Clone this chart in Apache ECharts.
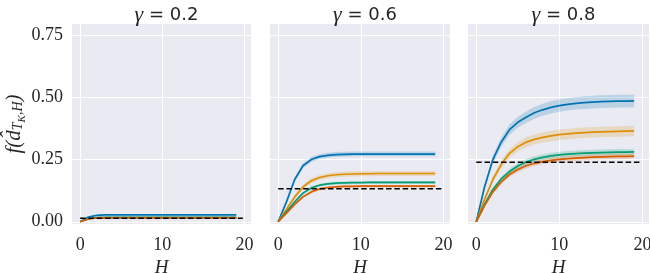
<!DOCTYPE html>
<html><head><meta charset="utf-8">
<script src="https://cdn.jsdelivr.net/npm/echarts@6/dist/echarts.min.js"></script>
<style>html,body{margin:0;padding:0;background:#fff}#c{width:650px;height:273px}</style>
</head><body><div id="c"></div>
<script>
const H = [0,1,2,3,4,5,6,7,8,9,10,11,12,13,14,15,16,17,18,19];
const gammas = ['0.2','0.6','0.8'];
const xTicks = [0,10,20];
const yTicks = [0,0.25,0.5,0.75];
const colors = ['#0173B2','#DE8F05','#029E73','#D55E00'];
const baseline = [0.014, 0.133, 0.239];
const baselineX = [0, 19.8];

// gamma = 0.2
const g02_blue   = [0,0.019,0.026,0.028,0.028,0.028,0.028,0.028,0.028,0.028,0.028,0.028,0.028,0.028,0.028,0.028,0.028,0.028,0.028,0.028];
const g02_orange = [0,0.012,0.016,0.017,0.017,0.017,0.017,0.017,0.017,0.017,0.017,0.017,0.017,0.017,0.017,0.017,0.017,0.017,0.017,0.017];
const g02_green  = [0,0.012,0.017,0.018,0.018,0.018,0.018,0.018,0.018,0.018,0.018,0.018,0.018,0.018,0.018,0.018,0.018,0.018,0.018,0.018];
const g02_red    = [0,0.011,0.015,0.016,0.016,0.016,0.016,0.016,0.016,0.016,0.016,0.016,0.016,0.016,0.016,0.016,0.016,0.016,0.016,0.016];
const g02_ci     = [0,0.001,0.002,0.002,0.002,0.002,0.002,0.002,0.002,0.002,0.002,0.002,0.002,0.002,0.002,0.002,0.002,0.002,0.002,0.002];
// gamma = 0.6
const g06_blue   = [0,0.080,0.170,0.225,0.250,0.262,0.267,0.270,0.271,0.272,0.272,0.272,0.272,0.272,0.272,0.272,0.272,0.272,0.272,0.272];
const g06_orange = [0,0.050,0.100,0.140,0.165,0.178,0.185,0.189,0.191,0.192,0.193,0.193,0.194,0.194,0.194,0.194,0.194,0.194,0.194,0.194];
const g06_green  = [0,0.040,0.080,0.115,0.136,0.147,0.152,0.155,0.156,0.157,0.157,0.158,0.158,0.158,0.158,0.158,0.158,0.158,0.158,0.158];
const g06_red    = [0,0.035,0.070,0.100,0.120,0.132,0.137,0.140,0.142,0.142,0.143,0.143,0.143,0.143,0.143,0.143,0.143,0.143,0.143,0.143];
const g06_ci_blue   = [0,0.006,0.009,0.010,0.010,0.010,0.010,0.010,0.010,0.010,0.010,0.010,0.010,0.010,0.010,0.010,0.010,0.010,0.010,0.010];
const g06_ci_orange = [0,0.005,0.008,0.009,0.010,0.010,0.010,0.010,0.010,0.010,0.010,0.010,0.010,0.010,0.010,0.010,0.010,0.010,0.010,0.010];
const g06_ci_green  = [0,0.004,0.005,0.006,0.006,0.006,0.006,0.006,0.006,0.006,0.006,0.006,0.006,0.006,0.006,0.006,0.006,0.006,0.006,0.006];
const g06_ci_red    = [0,0.003,0.004,0.005,0.005,0.005,0.005,0.005,0.005,0.005,0.005,0.005,0.005,0.005,0.005,0.005,0.005,0.005,0.005,0.005];
// gamma = 0.8
const g08_blue   = [0,0.140,0.250,0.320,0.370,0.400,0.420,0.438,0.450,0.460,0.467,0.472,0.476,0.479,0.481,0.483,0.484,0.485,0.485,0.486];
const g08_orange = [0,0.090,0.170,0.230,0.275,0.302,0.320,0.331,0.339,0.345,0.350,0.353,0.356,0.358,0.360,0.361,0.362,0.363,0.364,0.365];
const g08_green  = [0,0.070,0.130,0.172,0.202,0.224,0.240,0.251,0.259,0.265,0.269,0.272,0.274,0.276,0.277,0.278,0.279,0.280,0.280,0.281];
const g08_red    = [0,0.065,0.120,0.160,0.190,0.210,0.225,0.235,0.242,0.247,0.251,0.254,0.256,0.258,0.260,0.261,0.262,0.263,0.263,0.264];
const g08_ci_blue   = [0,0.010,0.016,0.019,0.021,0.022,0.023,0.024,0.024,0.025,0.025,0.025,0.025,0.026,0.026,0.026,0.026,0.026,0.026,0.026];
const g08_ci_orange = [0,0.008,0.013,0.016,0.018,0.019,0.020,0.020,0.021,0.021,0.021,0.021,0.021,0.021,0.021,0.021,0.021,0.021,0.021,0.021];
const g08_ci_green  = [0,0.006,0.008,0.010,0.011,0.011,0.012,0.012,0.012,0.012,0.012,0.012,0.012,0.012,0.012,0.012,0.012,0.012,0.012,0.012];
const g08_ci_red    = [0,0.005,0.008,0.010,0.011,0.011,0.011,0.011,0.011,0.011,0.011,0.011,0.011,0.011,0.011,0.011,0.011,0.011,0.011,0.011];

const panels = [
  {means:[g02_blue,g02_orange,g02_green,g02_red], cis:[g02_ci,g02_ci,g02_ci,g02_ci]},
  {means:[g06_blue,g06_orange,g06_green,g06_red], cis:[g06_ci_blue,g06_ci_orange,g06_ci_green,g06_ci_red]},
  {means:[g08_blue,g08_orange,g08_green,g08_red], cis:[g08_ci_blue,g08_ci_orange,g08_ci_green,g08_ci_red]}
];

const gridPos = [{left:72,width:179},{left:270,width:180},{left:468,width:181}];
const TXT = '#262626';
const SERIF = 'Liberation Serif';

const grids = [], xAxes = [], yAxes = [], series = [], titles = [];
panels.forEach((p, i) => {
  grids.push({left:gridPos[i].left, width:gridPos[i].width, top:24, height:200, show:true,
    backgroundColor:'#EAEAF2', borderWidth:0, outerBoundsMode:'none', containLabel:false});
  xAxes.push({type:'value', gridIndex:i, min:-0.99, max:20.79,
    axisLine:{show:false}, axisTick:{show:false, customValues:xTicks},
    axisLabel:{customValues:xTicks, fontFamily:SERIF, fontSize:18, color:TXT, margin:12},
    splitLine:{show:true, lineStyle:{color:'#fff', width:1}},
    name:'H', nameLocation:'middle', nameGap:29,
    nameTextStyle:{fontFamily:SERIF, fontStyle:'italic', fontSize:19, color:TXT}});
  const ya = {type:'value', gridIndex:i, min:-0.009, max:0.795,
    axisLine:{show:false}, axisTick:{show:false, customValues:yTicks},
    axisLabel:{show:i===0, customValues:yTicks, fontFamily:SERIF, fontSize:18, color:TXT, margin:9,
      formatter:v=>v.toFixed(2)},
    splitLine:{show:true, lineStyle:{color:'#fff', width:1}}};
  if (i===0) {
    ya.name = '{t|f(d̂}{s|T}{ss|K}{s|,H}{t|)}';
    ya.nameLocation = 'middle';
    ya.nameGap = 44;
    ya.nameRotate = 90;
    ya.nameTextStyle = {rich:{
      t:{fontFamily:SERIF, fontStyle:'italic', fontSize:21, color:TXT, lineHeight:26},
      s:{fontFamily:SERIF, fontStyle:'italic', fontSize:14, color:TXT, padding:[9,0,0,0]},
      ss:{fontFamily:SERIF, fontStyle:'italic', fontSize:11, color:TXT, padding:[16,0,0,0]}}};
  }
  yAxes.push(ya);
  titles.push({text:'{g|γ}{s| = '+gammas[i]+'}', left:gridPos[i].left + gridPos[i].width/2, top:-1, textAlign:'center',
    textStyle:{fontWeight:'normal', rich:{g:{fontFamily:SERIF, fontStyle:'italic', fontWeight:'normal', fontSize:22, color:TXT},
      s:{fontFamily:'DejaVu Sans', fontWeight:'normal', fontSize:18, color:TXT}}}});
  // confidence bands as polygons through the axis scales
  p.means.forEach((m, k) => {
    const ci = p.cis[k];
    const rows = H.map((h,j)=>[h, m[j]-ci[j], m[j]+ci[j]]);
    series.push({type:'custom', xAxisIndex:i, yAxisIndex:i, silent:true, z:1,
      data: rows, encode:{x:0, y:[1,2]},
      renderItem:(params, api) => {
        if (params.dataIndex !== 0) return null;
        const upper = rows.map(r => api.coord([r[0], r[2]]));
        const lower = rows.map(r => api.coord([r[0], r[1]])).reverse();
        return {type:'polygon', shape:{points:upper.concat(lower)},
          style:{fill:colors[k], opacity:0.2}};
      }});
  });
  p.means.forEach((m, k) => {
    series.push({type:'line', xAxisIndex:i, yAxisIndex:i, symbol:'none', silent:true,
      lineStyle:{color:colors[k], width:1.7}, data:H.map((h,j)=>[h, m[j]]), z:2+k});
  });
  series.push({type:'line', xAxisIndex:i, yAxisIndex:i, symbol:'none', silent:true,
    lineStyle:{color:'#000', width:1.5, type:[5.5,2.8]}, data:baselineX.map(x=>[x, baseline[i]]), z:10});
});

const chart = echarts.init(document.getElementById('c'), null, {renderer:'canvas'});
chart.setOption({animation:false, title:titles, grid:grids, xAxis:xAxes, yAxis:yAxes, series:series});
</script></body></html>
